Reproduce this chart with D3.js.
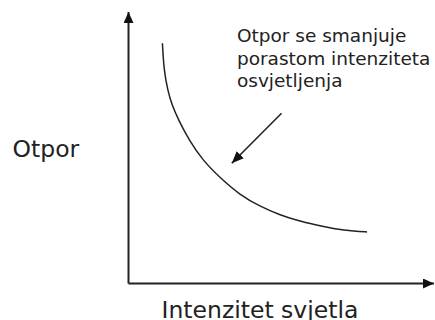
<!DOCTYPE html>
<html>
<head>
<meta charset="utf-8">
<script src="https://cdn.jsdelivr.net/npm/d3@7"></script>
<style>
  body { margin: 0; background: #fff; }
  svg { display: block; }
  text { font-family: "DejaVu Sans", Verdana, sans-serif; fill: #222; }
</style>
</head>
<body>
<div id="chart"></div>
<script>
// light intensity (x) vs resistance (y), arbitrary units 0..10
var intensity  = [1.11, 1.16, 1.28, 1.42, 1.65, 1.98, 2.42, 3.00, 3.65, 4.30, 4.96, 5.52, 6.11, 6.76, 7.41, 7.81];
var resistance = [8.85, 7.86, 7.13, 6.58, 5.99, 5.29, 4.55, 3.89, 3.26, 2.84, 2.52, 2.32, 2.16, 2.00, 1.92, 1.90];

var noteLines = ["Otpor se smanjuje", "porastom intenziteta", "osvjetljenja"];
var noteArrow = [{ x: 5.01, y: 6.27 }, { x: 3.38, y: 4.43 }];
var yLabel = "Otpor";
var xLabel = "Intenzitet svjetla";

var width = 435, height = 320;

var svg = d3.select("#chart").append("svg")
  .attr("width", width)
  .attr("height", height);

var x = d3.scaleLinear().domain([0, 10]).range([128.5, 434]);
var y = d3.scaleLinear().domain([0, 10]).range([283.5, 12]);

var defs = svg.append("defs");

defs.append("marker")
  .attr("id", "axisHead")
  .attr("markerUnits", "userSpaceOnUse")
  .attr("viewBox", "0 0 11 10")
  .attr("refX", 11)
  .attr("refY", 5)
  .attr("markerWidth", 11)
  .attr("markerHeight", 10)
  .attr("orient", "auto")
  .append("path")
  .attr("d", "M0,0 L11,5 L0,10 Z")
  .attr("fill", "#111");

defs.append("marker")
  .attr("id", "noteHead")
  .attr("markerUnits", "userSpaceOnUse")
  .attr("viewBox", "0 0 12 10")
  .attr("refX", 12)
  .attr("refY", 5)
  .attr("markerWidth", 12)
  .attr("markerHeight", 10)
  .attr("orient", "auto")
  .append("path")
  .attr("d", "M0,0 L12,5 L0,10 Z")
  .attr("fill", "#111");

// axes
svg.append("line")
  .attr("x1", x(0)).attr("y1", y(0))
  .attr("x2", x(10)).attr("y2", y(0))
  .attr("stroke", "#222")
  .attr("stroke-width", 2)
  .attr("marker-end", "url(#axisHead)");

svg.append("line")
  .attr("x1", x(0)).attr("y1", y(0))
  .attr("x2", x(0)).attr("y2", y(10))
  .attr("stroke", "#222")
  .attr("stroke-width", 2)
  .attr("marker-end", "url(#axisHead)");

// curve
var pts = intensity.map(function (d, i) { return [d, resistance[i]]; });

var line = d3.line()
  .x(function (d) { return x(d[0]); })
  .y(function (d) { return y(d[1]); })
  .curve(d3.curveBasis);

svg.append("path")
  .datum(pts)
  .attr("d", line)
  .attr("fill", "none")
  .attr("stroke", "#222")
  .attr("stroke-width", 1.5);

// annotation arrow
svg.append("line")
  .attr("x1", x(noteArrow[0].x)).attr("y1", y(noteArrow[0].y))
  .attr("x2", x(noteArrow[1].x)).attr("y2", y(noteArrow[1].y))
  .attr("stroke", "#222")
  .attr("stroke-width", 1.6)
  .attr("marker-end", "url(#noteHead)");

// annotation text
svg.append("text")
  .attr("x", x(3.55))
  .attr("y", 42)
  .style("font-size", "18.5px")
  .selectAll("tspan")
  .data(noteLines)
  .enter().append("tspan")
  .attr("x", x(3.55))
  .attr("dy", function (d, i) { return i === 0 ? 0 : 22.5; })
  .text(function (d) { return d; });

// axis labels
svg.append("text")
  .attr("x", 12.5)
  .attr("y", 157)
  .style("font-size", "23.5px")
  .text(yLabel);

svg.append("text")
  .attr("x", 161.5)
  .attr("y", 318)
  .style("font-size", "23.5px")
  .text(xLabel);
</script>
</body>
</html>
